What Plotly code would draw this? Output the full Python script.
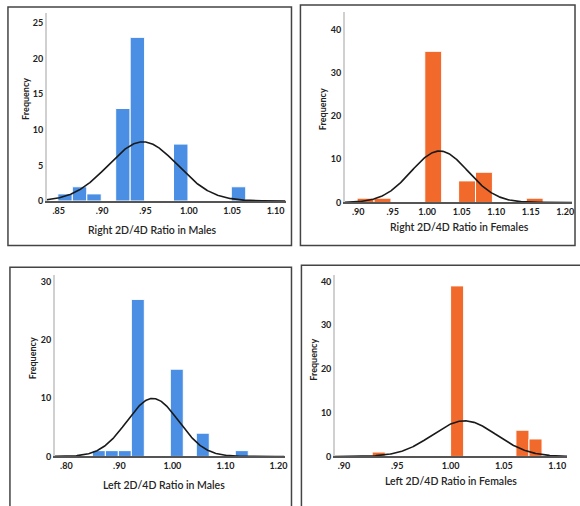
import numpy as np
import plotly.graph_objects as go

# ---------------- data ----------------
# Panel 1: Right 2D/4D ratio, males
rm_centers = [0.8573, 0.8740, 0.8907, 0.9240, 0.9407, 0.9907, 1.0573]
rm_counts = [1, 2, 1, 13, 23, 8, 2]
rm_binw = 1 / 60
rm_mean, rm_sd, rm_n = 0.947, 0.040, 50

# Panel 2: Right 2D/4D ratio, females
rf_centers = [0.91075, 0.93525, 1.00875, 1.05775, 1.08225, 1.15575]
rf_counts = [1, 1, 35, 5, 7, 1]
rf_binw = 0.0245
rf_mean, rf_sd, rf_n = 1.018, 0.041, 50

# Panel 3: Left 2D/4D ratio, males
lm_centers = [0.86125, 0.88575, 0.91025, 0.93475, 1.00825, 1.05725, 1.13075]
lm_counts = [1, 1, 1, 27, 15, 4, 1]
lm_binw = 0.0245
lm_mean, lm_sd, lm_n = 0.963, 0.049, 50

# Panel 4: Left 2D/4D ratio, females
lf_centers = [0.932625, 1.006125, 1.067375, 1.079625]
lf_counts = [1, 39, 6, 4]
lf_binw = 0.01225
lf_mean, lf_sd, lf_n = 1.013, 0.030, 50

titles = ["Right 2D/4D Ratio in Males", "Right 2D/4D Ratio in Females",
          "Left 2D/4D Ratio in Males", "Left 2D/4D Ratio in Females"]

rm_xticks = [0.85, 0.90, 0.95, 1.00, 1.05, 1.10]
rm_xtext = [".85", ".90", ".95", "1.00", "1.05", "1.10"]
rf_xticks = [0.90, 0.95, 1.00, 1.05, 1.10, 1.15, 1.20]
rf_xtext = [".90", ".95", "1.00", "1.05", "1.10", "1.15", "1.20"]
lm_xticks = [0.80, 0.90, 1.00, 1.10, 1.20]
lm_xtext = [".80", ".90", "1.00", "1.10", "1.20"]
lf_xticks = [0.90, 0.95, 1.00, 1.05, 1.10]
lf_xtext = [".90", ".95", "1.00", "1.05", "1.10"]

rm_yticks = [0, 5, 10, 15, 20, 25]
rf_yticks = [0, 10, 20, 30, 40]
lm_yticks = [0, 10, 20, 30]
lf_yticks = [0, 10, 20, 30, 40]

BLUE = "#4a8fe3"
ORANGE = "#f26a2b"
W, H = 580, 506

panels = [
    dict(c=rm_centers, n=rm_counts, w=rm_binw, mu=rm_mean, sd=rm_sd, N=rm_n, col=BLUE,
         xr=[0.8362, 1.1115], yr=[0, 26.4], xt=rm_xticks, xtt=rm_xtext, yt=rm_yticks,
         px=(47, 287), py=(13.3, 203.0), title_xy=(153, 232), freq_xy=(25, 100),
         box=(8, 7, 293, 248)),
    dict(c=rf_centers, n=rf_counts, w=rf_binw, mu=rf_mean, sd=rf_sd, N=rf_n, col=ORANGE,
         xr=[0.8808, 1.2098], yr=[0, 44.2], xt=rf_xticks, xtt=rf_xtext, yt=rf_yticks,
         px=(346.7, 575), py=(11.7, 204.5), title_xy=(462, 229), freq_xy=(325, 110),
         box=(302, 5, 578, 248)),
    dict(c=lm_centers, n=lm_counts, w=lm_binw, mu=lm_mean, sd=lm_sd, N=lm_n, col=BLUE,
         xr=[0.778, 1.2114], yr=[0, 31.2], xt=lm_xticks, xtt=lm_xtext, yt=lm_yticks,
         px=(55, 286), py=(277.7, 461), title_xy=(165, 490), freq_xy=(33, 362),
         box=(10, 270, 293, 520)),
    dict(c=lf_centers, n=lf_counts, w=lf_binw, mu=lf_mean, sd=lf_sd, N=lf_n, col=ORANGE,
         xr=[0.8916, 1.1092], yr=[0, 41.5], xt=lf_xticks, xtt=lf_xtext, yt=lf_yticks,
         px=(336.7, 570), py=(277.7, 461), title_xy=(453, 486), freq_xy=(315, 363),
         box=(303, 268, 600, 520)),
]

fig = go.Figure()
layout = dict(width=W, height=H, margin=dict(l=0, r=0, t=0, b=0),
              paper_bgcolor="white", plot_bgcolor="white", showlegend=False,
              annotations=[], shapes=[])

tickfont = dict(family="Lato, Open Sans, sans-serif", size=9, color="#222222", weight="bold")

for i, p in enumerate(panels):
    k = "" if i == 0 else str(i + 1)
    xa, ya = "x" + k, "y" + k
    fig.add_trace(go.Bar(x=p["c"], y=p["n"], width=p["w"], marker=dict(color=p["col"],
                  line=dict(color="white", width=1)), xaxis=xa, yaxis=ya, hoverinfo="skip"))
    xs = np.linspace(p["xr"][0], p["xr"][1], 300)
    ys = p["N"] * p["w"] / (p["sd"] * np.sqrt(2 * np.pi)) * np.exp(-0.5 * ((xs - p["mu"]) / p["sd"]) ** 2)
    fig.add_trace(go.Scatter(x=xs, y=ys, mode="lines", line=dict(color="#1a1a1a", width=1.6),
                             xaxis=xa, yaxis=ya, hoverinfo="skip"))
    layout["xaxis" + k] = dict(domain=[p["px"][0] / W, p["px"][1] / W], range=p["xr"],
                               anchor=ya, tickvals=p["xt"], ticktext=p["xtt"],
                               showgrid=False, zeroline=False, showline=True,
                               linecolor="#555555", linewidth=1.6, ticks="",
                               tickfont=tickfont, fixedrange=True)
    layout["yaxis" + k] = dict(domain=[1 - p["py"][1] / H, 1 - p["py"][0] / H], range=p["yr"],
                               anchor=xa, tickvals=p["yt"], showgrid=False, zeroline=False,
                               showline=True, linecolor="#d0d0d0", linewidth=1.6, ticks="",
                               tickfont=tickfont, fixedrange=True)
    tx, ty = p["title_xy"]
    layout["annotations"].append(dict(text=titles[i], x=tx / W, y=1 - ty / H, xref="paper",
                                      yref="paper", showarrow=False, xanchor="center",
                                      yanchor="middle",
                                      font=dict(family="Lato, Open Sans, sans-serif", size=10.5,
                                                color="#262626", weight=600)))
    fx, fy = p["freq_xy"]
    layout["annotations"].append(dict(text="Frequency", x=fx / W, y=1 - fy / H, xref="paper",
                                      yref="paper", showarrow=False, textangle=-90,
                                      xanchor="center", yanchor="middle",
                                      font=dict(family="Lato, Open Sans, sans-serif", size=9,
                                                color="#222222", weight="bold")))
    x0, y0, x1, y1 = p["box"]
    layout["shapes"].append(dict(type="rect", xref="paper", yref="paper",
                                 x0=x0 / W, x1=x1 / W, y0=1 - y1 / H, y1=1 - y0 / H,
                                 line=dict(color="#444444", width=1.5), layer="below"))

fig.update_layout(**layout)
fig.write_html("out.html", config={"displayModeBar": False},
               post_script="document.body.style.margin='0px';document.body.style.overflow='hidden';")
